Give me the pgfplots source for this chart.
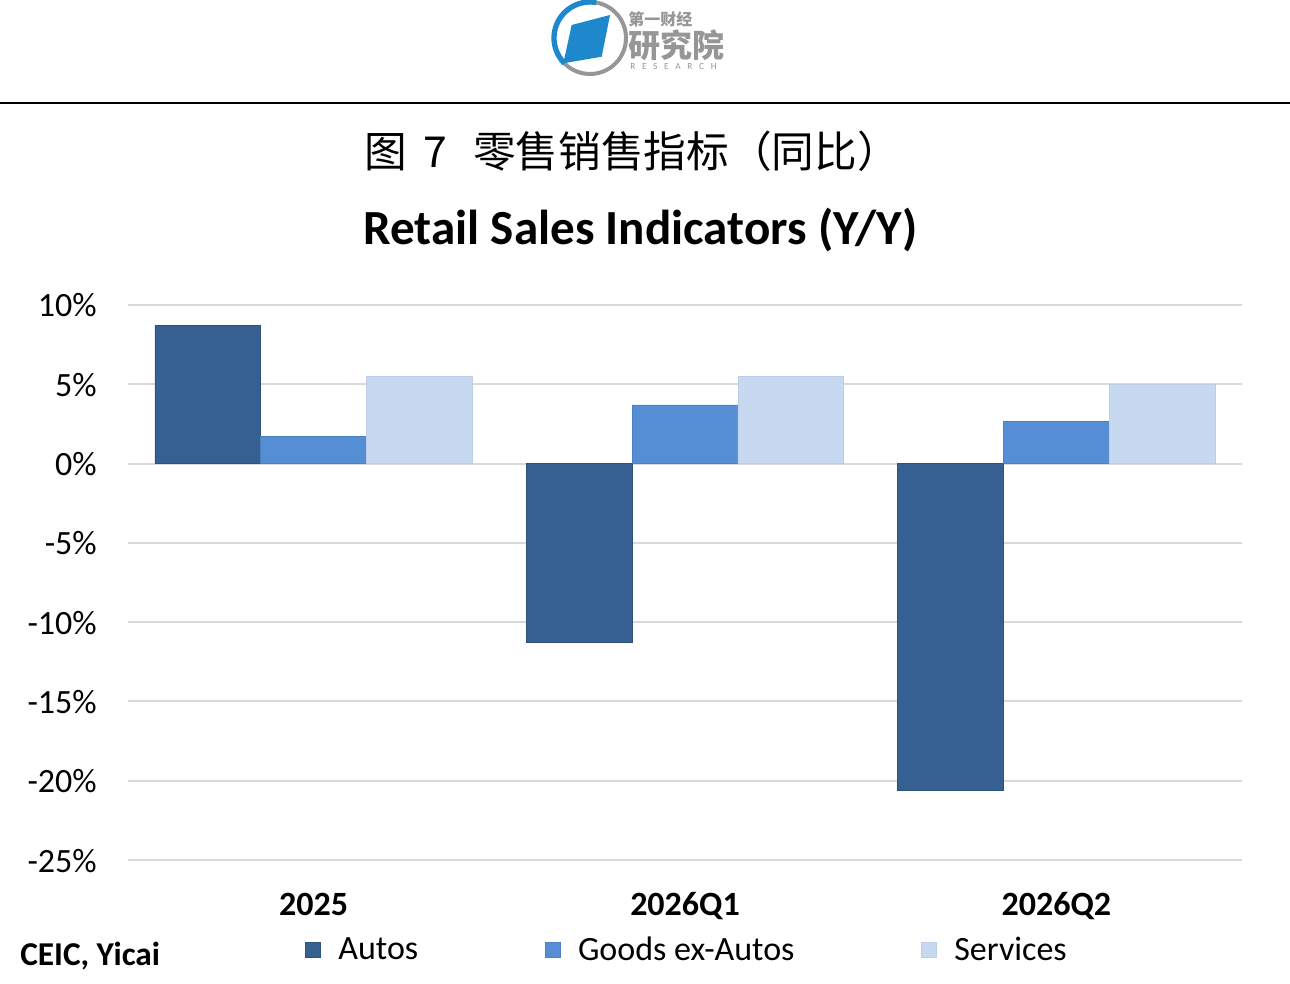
\documentclass[border=0pt]{standalone}
\usepackage{fontspec}
\setmainfont{Carlito}
\newfontfamily\cjk{Noto Sans CJK SC}
\usepackage{pgfplots}
\pgfplotsset{compat=1.18}
\definecolor{cAuto}{RGB}{55,96,146}
\definecolor{cGoods}{RGB}{85,142,213}
\definecolor{cServ}{RGB}{198,217,241}
\definecolor{gridc}{RGB}{217,217,217}
\definecolor{logoblue}{RGB}{30,136,204}
\definecolor{logogray}{RGB}{150,150,150}
\begin{document}
\begin{tikzpicture}
\path[use as bounding box] (0,0) rectangle (967.5pt,-738pt);
\begin{scope}[x=0.75pt,y=-0.75pt]
  \draw[line width=1.5pt] (0,103) -- (1290,103);
  % logo
  \draw[logogray, line width=3pt] (590,38) circle[radius=36];
  \draw[logoblue, line width=4pt] (590,38) ++(-80:36) arc[start angle=-80, end angle=-225, radius=36];
  \fill[logoblue] (571.7,25) -- (563.3,63.3) -- (601.7,56.7) -- (610,15) -- cycle;
  \node[anchor=west, inner sep=0, logogray, font=\cjk\bfseries\fontsize{12}{12}\selectfont] at (628,19) {第一财经};
  \node[anchor=west, inner sep=0, logogray, font=\cjk\bfseries\fontsize{24}{24}\selectfont] at (628,45) {研究院};
  \node[anchor=west, inner sep=0, logogray, font=\fontsize{7}{7}\selectfont] at (630,67) {R\hspace{5pt}E\hspace{5pt}S\hspace{5pt}E\hspace{5pt}A\hspace{5pt}R\hspace{5pt}C\hspace{5pt}H};
  % titles
  \node[font=\cjk\fontsize{32}{32}\selectfont, anchor=base, inner sep=0] at (632,168) {图\hspace{0.4em}7\hspace{0.6em}零售销售指标（同比）};
  \node[font=\bfseries\fontsize{36.8}{36.8}\selectfont, anchor=base, inner sep=0] at (640.5,245) {Retail Sales Indicators (Y/Y)};
  \node[font=\bfseries\fontsize{25}{25}\selectfont, anchor=base west, inner sep=0] at (20,965) {CEIC, Yicai};
\end{scope}
\begin{axis}[
  at={(96pt,-645pt)}, anchor=south west, scale only axis,
  width=835.5pt, height=416.25pt,
  ymin=-25, ymax=10, xmin=-0.5, xmax=2.5,
  axis line style={draw=none},
  ytick={-25,-20,-15,-10,-5,0,5,10},
  yticklabels={-25\%,-20\%,-15\%,-10\%,-5\%,0\%,5\%,10\%},
  xtick={0,1,2}, xticklabels={2025,2026Q1,2026Q2},
  major tick length=0pt,
  ymajorgrids, grid style={gridc, line width=1.5pt},
  yticklabel style={font=\fontsize{25.5}{25.5}\selectfont, anchor=base east, inner sep=0pt, xshift=-23.25pt, yshift=-9pt},
  xticklabel style={font=\bfseries\fontsize{25.5}{25.5}\selectfont, anchor=base, inner sep=0pt, yshift=-41.25pt},
  ybar, bar width=0.285,
  legend image code/.code={\draw[#1] (0pt,-5.6pt) rectangle (11.25pt,5.6pt);},
  legend style={draw=none, legend columns=3, font=\fontsize{25.5}{25.5}\selectfont,
    at={(axis description cs:0.1589,-0.1622)}, anchor=west, inner sep=0pt,
    /tikz/every odd column/.append style={column sep=13pt},
    /tikz/every even column/.append style={column sep=95pt},
    nodes={inner sep=0pt}},
  legend cell align=left,
]
\addplot[fill=cAuto, draw=cAuto!85!black, line width=0.6pt, bar shift=-0.285] coordinates {(0,8.7) (1,-11.3) (2,-20.6)};
\addplot[fill=cGoods, draw=cGoods!90!black, line width=0.6pt, bar shift=0] coordinates {(0,1.7) (1,3.7) (2,2.65)};
\addplot[fill=cServ, draw=cServ!95!black, line width=0.6pt, bar shift=0.285] coordinates {(0,5.5) (1,5.5) (2,5.0)};
\legend{Autos, Goods ex-Autos, Services}
\end{axis}
\end{tikzpicture}
\end{document}
